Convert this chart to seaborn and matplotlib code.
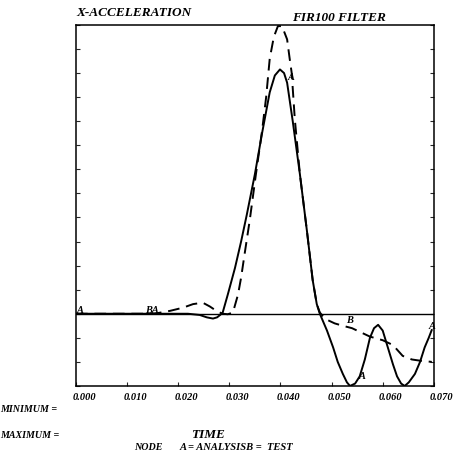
import matplotlib
matplotlib.use("Agg")
import pandas as pd
import matplotlib.pyplot as plt
import matplotlib.transforms as mtransforms
import seaborn as sns

# curve A (analysis) - solid
time_a = [0.0, 0.0145, 0.0219, 0.0242, 0.0256, 0.0268, 0.0276, 0.0282, 0.0287, 0.0297,
          0.0311, 0.0323, 0.0334, 0.0350, 0.0364, 0.0379, 0.0389, 0.0399, 0.0407, 0.0413,
          0.0424, 0.0438, 0.0452, 0.0463, 0.0471, 0.0477, 0.0491, 0.0503, 0.0512, 0.0522,
          0.0530, 0.0536, 0.0546, 0.0555, 0.0565, 0.0575, 0.0583, 0.0591, 0.0600, 0.0610,
          0.0620, 0.0628, 0.0636, 0.0643, 0.0651, 0.0663, 0.0673, 0.0682, 0.0690, 0.0696]
accel_a = [0.0, 0.0, 0.0, -0.05, -0.15, -0.2, -0.15, -0.05, 0.05, 0.8,
           1.9, 3.0, 4.1, 5.8, 7.5, 9.2, 9.9, 10.15, 10.0, 9.6,
           8.0, 5.8, 3.4, 1.4, 0.4, 0.0, -0.7, -1.4, -2.0, -2.5,
           -2.85, -3.0, -2.9, -2.6, -1.9, -1.0, -0.6, -0.46, -0.7, -1.4,
           -2.1, -2.6, -2.9, -3.0, -2.85, -2.5, -2.0, -1.4, -1.0, -0.67]

# curve B (test) - dashed
time_b = [0.0, 0.0145, 0.0158, 0.0184, 0.0209, 0.0229, 0.0248, 0.0262, 0.0276, 0.0287,
          0.0297, 0.0307, 0.0317, 0.0323, 0.0330, 0.0340, 0.0352, 0.0364, 0.0372, 0.0379,
          0.0387, 0.0395, 0.0403, 0.0413, 0.0418, 0.0422, 0.0428, 0.0438, 0.0452, 0.0463,
          0.0471, 0.0477, 0.0483, 0.0491, 0.0506, 0.0522, 0.0540, 0.0555, 0.0575, 0.0600,
          0.0620, 0.0639, 0.0657, 0.0673, 0.0696]
accel_b = [0.0, 0.0, 0.02, 0.12, 0.25, 0.4, 0.46, 0.3, 0.1, 0.0,
           -0.02, 0.05, 0.8, 1.5, 2.5, 3.9, 5.8, 7.6, 9.0, 10.6,
           11.5, 11.95, 11.95, 11.4, 10.6, 10.0, 8.1, 5.8, 3.4, 1.4,
           0.4, 0.05, -0.1, -0.25, -0.4, -0.5, -0.6, -0.75, -0.95, -1.1,
           -1.3, -1.75, -1.9, -1.95, -2.0]

x_ticks = [0.0, 0.01, 0.02, 0.03, 0.04, 0.05, 0.06, 0.07]
x_tick_labels = ["0.000", "0.010", "0.020", "0.030", "0.040", "0.050", "0.060", "0.070"]
y_ticks = list(range(-3, 13))

# curve letter markers: (text, time, accel)
marker_labels = [("A", 0.0008, 0.15), ("BA", 0.0149, 0.12), ("A", 0.0421, 9.8),
                 ("B", 0.0536, -0.3), ("A", 0.0560, -2.6), ("A", 0.0696, -0.55)]

df_a = pd.DataFrame({"time": time_a, "accel": accel_a})
df_b = pd.DataFrame({"time": time_b, "accel": accel_b})

sns.set_style("ticks")
plt.rcParams['font.family'] = ['Liberation Serif', 'DejaVu Serif']

fig = plt.figure(figsize=(4.66, 4.53), dpi=100)
ax = fig.add_axes([0.163, 0.148, 0.768, 0.797])

ax.axhline(0, color="black", linewidth=1.0)
sns.lineplot(data=df_a, x="time", y="accel", color="black", linewidth=1.4,
             estimator=None, ax=ax)
sns.lineplot(data=df_b, x="time", y="accel", color="black", linewidth=1.4,
             estimator=None, linestyle=(0, (6, 3.5)), ax=ax)

kw = dict(fontweight="bold", fontstyle="italic", color="black")
for txt, tx, ty in marker_labels:
    ax.text(tx, ty, txt, fontsize=7.5, ha="center", va="center", clip_on=False, **kw)

ax.set_xlim(0, 0.07)
ax.set_ylim(-3, 12)
ax.set_xticks(x_ticks)
ax.set_xticklabels(x_tick_labels, fontsize=7.5, **kw)
ax.set_yticks(y_ticks)
ax.set_yticklabels([])
ax.tick_params(direction="in", length=3, width=0.8, right=True, pad=5)
ax.set_xlabel("")
ax.set_ylabel("")
for s in ax.spines.values():
    s.set_linewidth(1.1)
    s.set_color("black")

# tick labels sit a little right of their ticks in the original
shift = mtransforms.ScaledTranslation(8 / 100, 0, fig.dpi_scale_trans)
for lab in ax.get_xticklabels():
    lab.set_transform(lab.get_transform() + shift)

fig.text(76 / 466, 1 - 16 / 453, "X-ACCELERATION", fontsize=9.5, **kw)
fig.text(292 / 466, 1 - 21 / 453, "FIR100 FILTER", fontsize=9.5, **kw)
fig.text(0.0, 1 - 412 / 453, "MINIMUM =", fontsize=7.2, **kw)
fig.text(0.0, 1 - 438 / 453, "MAXIMUM =", fontsize=7.2, **kw)
fig.text(191 / 466, 1 - 438 / 453, "TIME", fontsize=9.5, **kw)
fig.text(134 / 466, 1 - 450 / 453, "NODE", fontsize=7.2, **kw)
fig.text(180 / 466, 1 - 450 / 453, "A = ANALYSISB =  TEST", fontsize=7.6, **kw)

plt.savefig("out.png", dpi=100)
